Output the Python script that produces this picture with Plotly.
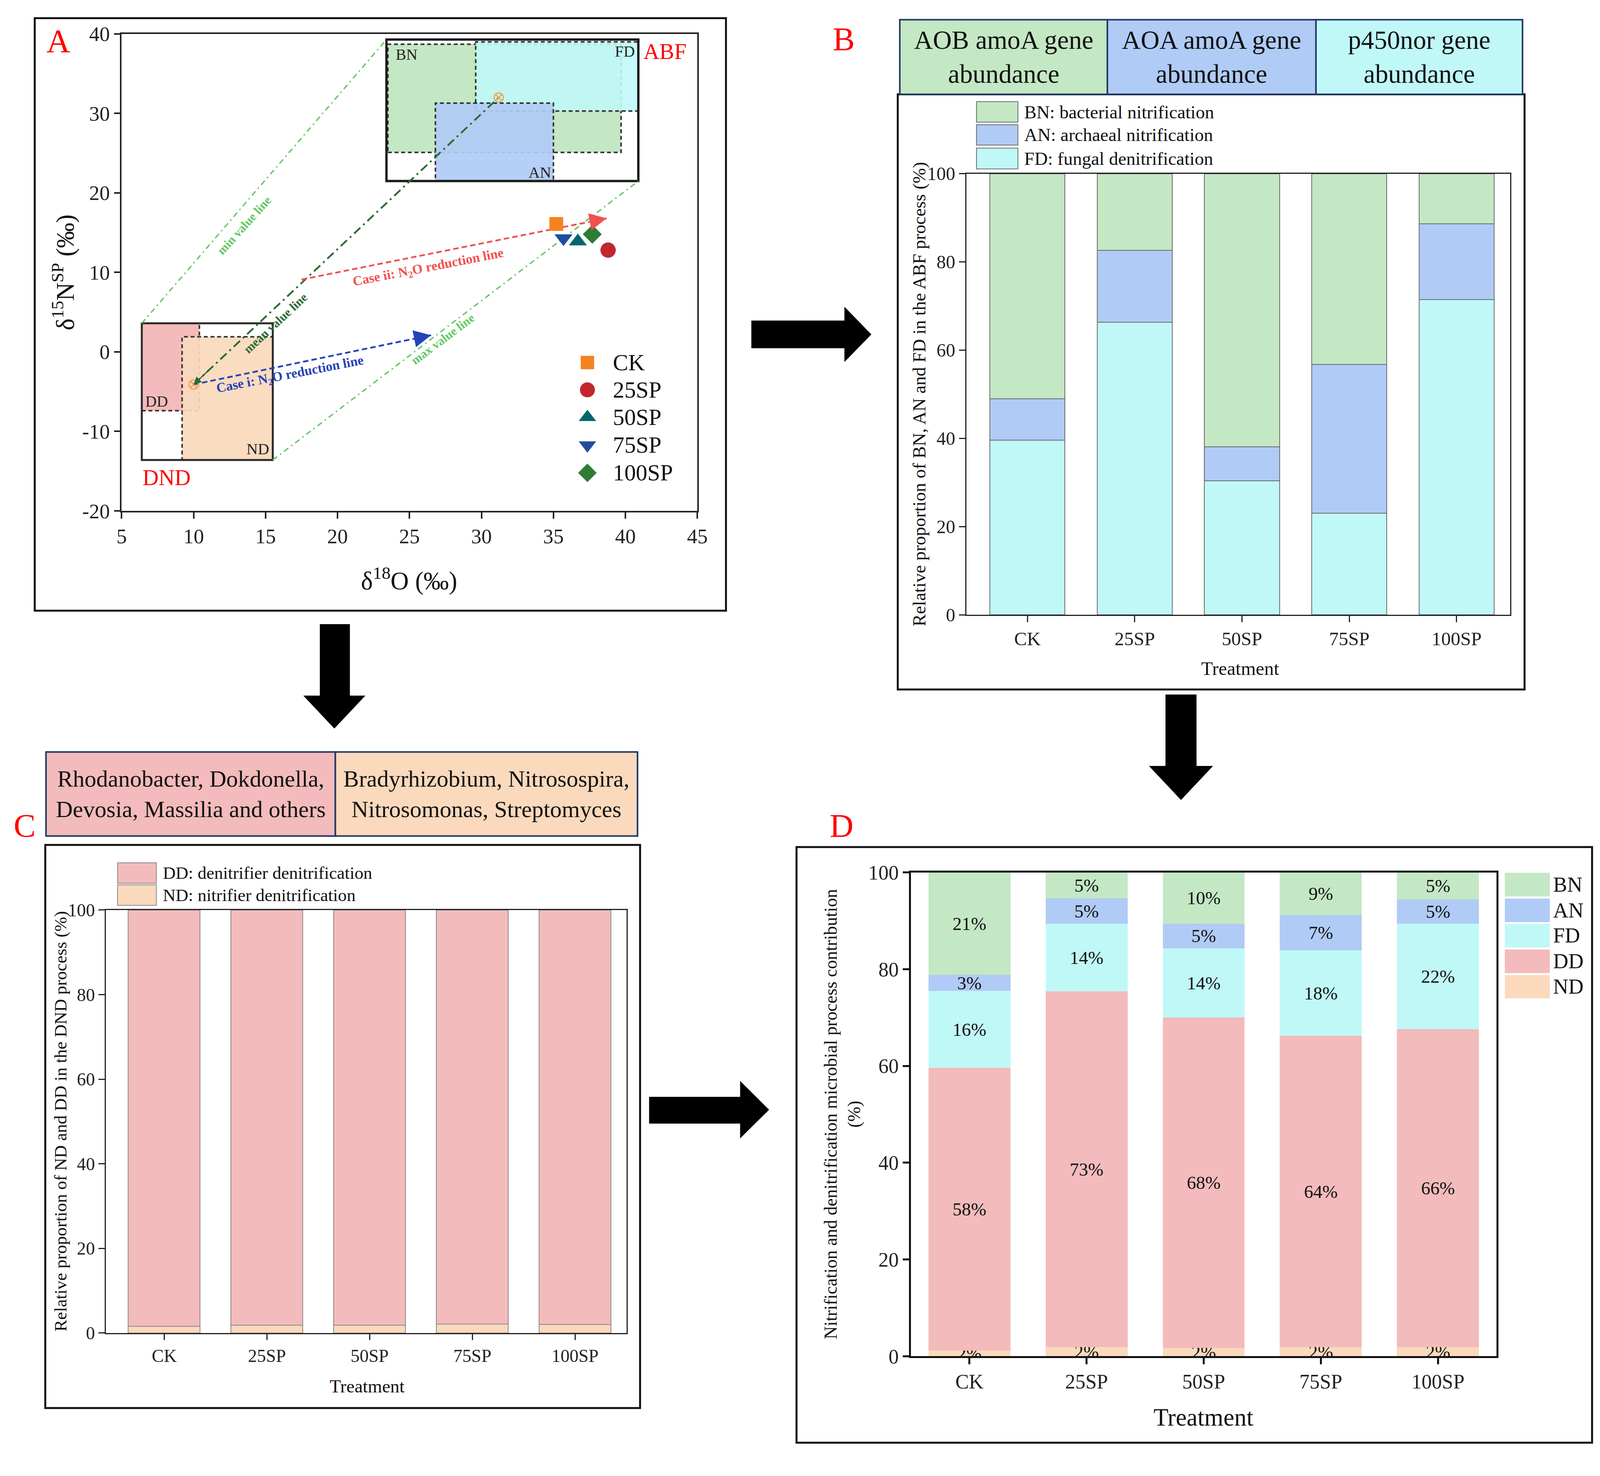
import plotly.graph_objects as go

W, H = 4275, 3779
K = W / 1565.0     # reference-sketch units -> pixels
MX = 1.034         # horizontal compensation for the photographed page width
OFFX, OFFY = 16.0, 33.0


def PX(t):
    return (t * K / MX - OFFX) / W


def PY(t):
    return 1 - (t * K - OFFY) / H


def FS(s):
    return s / 1.02


FONT = "Liberation Serif"

treatments = ["CK", "25SP", "50SP", "75SP", "100SP"]

# ---------------- Panel A data ----------------
a_d18O = [35.2, 38.8, 36.7, 35.7, 37.7]
a_d15Nsp = [16.1, 12.8, 13.9, 14.3, 14.8]
a_symbols = ["square", "circle", "triangle-up", "triangle-down", "diamond"]
a_colors = ["#F58220", "#C1272D", "#00686B", "#1F4E9E", "#2E7D32"]
a_sizes = [36, 40, 41, 41, 38]
a_xticks = [5, 10, 15, 20, 25, 30, 35, 40, 45]
a_yticks = [-20, -10, 0, 10, 20, 30, 40]

# end-member boxes [x0, x1, y0, y1]
dd_box = [6.4, 10.4, -7.4, 3.6]
nd_box = [9.2, 15.5, -13.6, 1.9]
dnd_box = [6.4, 15.5, -13.6, 3.6]
bn_box = [23.5, 39.7, 25.1, 38.7]
fd_box = [29.6, 40.9, 30.3, 39.0]
an_box = [26.8, 35.0, 21.5, 31.3]
abf_box = [23.4, 40.9, 21.5, 39.3]
dnd_mean = [10.0, -4.1]
abf_mean = [31.2, 32.0]
case_i_end = [26.5, 2.1]
case_ii_start = [17.5, 9.1]
case_ii_end = [38.7, 16.8]

# ---------------- Panel B data ----------------
b_FD = [39.6, 66.3, 30.4, 23.0, 71.5]
b_AN = [9.4, 16.3, 7.7, 33.8, 17.1]
b_BN = [51.0, 17.4, 61.9, 43.2, 11.4]

# ---------------- Panel C data ----------------
c_ND = [1.6, 1.8, 1.8, 2.1, 2.0]
c_DD = [98.4, 98.2, 98.2, 97.9, 98.0]

# ---------------- Panel D data ----------------
d_ND = [1.2, 1.9, 1.7, 1.9, 1.9]
d_DD = [58.4, 73.5, 68.3, 64.3, 65.7]
d_FD = [15.9, 14.0, 14.3, 17.7, 21.8]
d_AN = [3.3, 5.2, 5.1, 7.3, 5.0]
d_BN = [21.2, 5.4, 10.6, 8.8, 5.6]
d_ND_lab = ["2%", "2%", "2%", "2%", "2%"]
d_DD_lab = ["58%", "73%", "68%", "64%", "66%"]
d_FD_lab = ["16%", "14%", "14%", "18%", "22%"]
d_AN_lab = ["3%", "5%", "5%", "7%", "5%"]
d_BN_lab = ["21%", "5%", "10%", "9%", "5%"]

C_BN = "#C4E7C4"
C_AN = "#B0CBF5"
C_FD = "#C0F8F8"
C_DD = "#F3BBBB"
C_ND = "#FAD9BC"
NAVY = "#1F3864"

fig = go.Figure()

# ---------- Panel A traces ----------
fig.add_trace(go.Scatter(x=[dnd_box[0], abf_box[0]], y=[dnd_box[3], abf_box[3]], mode="lines",
                         line=dict(color="#62C862", width=3.5, dash="14px,9px,4px,9px"),
                         xaxis="x", yaxis="y", showlegend=False, hoverinfo="skip"))
fig.add_trace(go.Scatter(x=[dnd_box[1], abf_box[1]], y=[dnd_box[2], abf_box[2]], mode="lines",
                         line=dict(color="#62C862", width=3.5, dash="14px,9px,4px,9px"),
                         xaxis="x", yaxis="y", showlegend=False, hoverinfo="skip"))
fig.add_trace(go.Scatter(x=[dnd_mean[0], abf_mean[0]], y=[dnd_mean[1], abf_mean[1]], mode="lines",
                         line=dict(color="#2A6A32", width=4.5, dash="22px,10px,5px,10px"),
                         xaxis="x", yaxis="y", showlegend=False, hoverinfo="skip"))
fig.add_trace(go.Scatter(x=[dnd_mean[0], case_i_end[0]], y=[dnd_mean[1], case_i_end[1]], mode="lines",
                         line=dict(color="#2443B8", width=4.5, dash="14px,8px"),
                         xaxis="x", yaxis="y", showlegend=False, hoverinfo="skip"))
fig.add_trace(go.Scatter(x=[case_ii_start[0], case_ii_end[0]], y=[case_ii_start[1], case_ii_end[1]],
                         mode="lines", line=dict(color="#F25050", width=4.5, dash="14px,8px"),
                         xaxis="x", yaxis="y", showlegend=False, hoverinfo="skip"))
fig.add_trace(go.Scatter(x=[dnd_mean[0], abf_mean[0]], y=[dnd_mean[1], abf_mean[1]], mode="markers",
                         marker=dict(symbol="circle-x-open", size=FS(24), color="#F0A050", line=dict(width=3),
                                     opacity=1),
                         xaxis="x", yaxis="y", showlegend=False, hoverinfo="skip"))
for i, n in enumerate(treatments):
    fig.add_trace(go.Scatter(x=[a_d18O[i]], y=[a_d15Nsp[i]], mode="markers", name=n,
                             marker=dict(symbol=a_symbols[i], color=a_colors[i], size=FS(a_sizes[i]), opacity=1),
                             xaxis="x", yaxis="y", showlegend=False))

# ---------- Panel B bars ----------
for vals, col, nm in [(b_FD, C_FD, "FD"), (b_AN, C_AN, "AN"), (b_BN, C_BN, "BN")]:
    fig.add_trace(go.Bar(x=treatments, y=vals, name=nm, marker=dict(color=col, line=dict(color="#6A6A6A", width=2)),
                         xaxis="x2", yaxis="y2", showlegend=False))

# ---------- Panel C bars ----------
for vals, col, nm in [(c_ND, C_ND, "ND"), (c_DD, C_DD, "DD")]:
    fig.add_trace(go.Bar(x=treatments, y=vals, name=nm, marker=dict(color=col, line=dict(color="#8A8A8A", width=2)),
                         xaxis="x3", yaxis="y3", showlegend=False))

# ---------- Panel D bars ----------
for vals, lab, col, nm in [(d_ND, d_ND_lab, C_ND, "ND"), (d_DD, d_DD_lab, C_DD, "DD"),
                           (d_FD, d_FD_lab, C_FD, "FD"), (d_AN, d_AN_lab, C_AN, "AN"),
                           (d_BN, d_BN_lab, C_BN, "BN")]:
    fig.add_trace(go.Bar(x=treatments, y=vals, name=nm, text=lab, textposition="inside",
                         insidetextanchor="middle", textangle=0,
                         textfont=dict(family=FONT, size=FS(48), color="#111111"),
                         marker=dict(color=col, line=dict(width=0)),
                         xaxis="x4", yaxis="y4", showlegend=False))

# ---------- Panel A legend glyphs (overlay axis in figure fraction) ----------
leg_rows = [343.8, 369.8, 395.9, 422.4, 448.8]
fig.add_trace(go.Scatter(x=[PX(572.5)] * 5, y=[PY(r) for r in leg_rows], mode="markers",
                         marker=dict(symbol=a_symbols, color=a_colors, size=[FS(s) for s in a_sizes], opacity=1),
                         xaxis="x5", yaxis="y5", showlegend=False, hoverinfo="skip"))

shapes = []
ann = []


def rect_data(b, fill, dash, width=4, color="#333333"):
    shapes.append(dict(type="rect", xref="x", yref="y", x0=b[0], x1=b[1], y0=b[2], y1=b[3],
                       fillcolor=fill, line=dict(color=color, width=width, dash=dash), layer="below"))


rect_data(dd_box, C_DD, "10px,7px")
rect_data(nd_box, "rgba(250,217,188,0.92)", "10px,7px")
rect_data(dnd_box, "rgba(0,0,0,0)", "solid", 5, "#2A2A2A")
rect_data(bn_box, C_BN, "10px,7px")
rect_data(fd_box, "rgba(192,248,248,0.9)", "10px,7px")
rect_data(an_box, "rgba(176,203,245,0.92)", "10px,7px")
rect_data(abf_box, "rgba(0,0,0,0)", "solid", 6, "#1A1A1A")


def head(p0, p1, color, w=4, size=2.2):
    f = 0.05
    ann.append(dict(x=p1[0], y=p1[1], ax=p1[0] - (p1[0] - p0[0]) * f, ay=p1[1] - (p1[1] - p0[1]) * f,
                    xref="x", yref="y", axref="x", ayref="y", text="", showarrow=True,
                    arrowhead=2, arrowsize=size, arrowwidth=w, arrowcolor=color))


head(dnd_mean, case_i_end, "#2443B8")
head(case_ii_start, case_ii_end, "#F25050")
head(abf_mean, dnd_mean, "#2A6A32", 3, 1.3)


def dtext(x, y, t, size, color="#222222", angle=0, xanchor="center", bold=False):
    ann.append(dict(x=x, y=y, xref="x", yref="y", text=("<b>%s</b>" % t) if bold else t, showarrow=False,
                    textangle=angle, xanchor=xanchor, yanchor="middle",
                    font=dict(family=FONT, size=FS(size), color=color)))


dtext(24.0, 37.4, "BN", 41, xanchor="left")
dtext(40.7, 37.8, "FD", 41, xanchor="right")
dtext(34.9, 22.6, "AN", 41, xanchor="right")
dtext(6.6, -6.2, "DD", 41, xanchor="left")
dtext(15.3, -12.2, "ND", 41, xanchor="right")
dtext(41.2, 37.8, "ABF", 58, "#FF0000", xanchor="left")
dtext(6.4, -15.8, "DND", 58, "#FF0000", xanchor="left")
dtext(13.5, 15.9, "min value line", 32, "#62C862", -48, bold=True)
dtext(15.7, 3.6, "mean value line", 32, "#2A6A32", -43, bold=True)
dtext(27.3, 1.6, "max value line", 32, "#62C862", -37, bold=True)
dtext(26.3, 10.6, "Case ii: N<sub>2</sub>O reduction line", 35, "#F25050", -11, bold=True)
dtext(16.7, -2.9, "Case i: N<sub>2</sub>O reduction line", 35, "#2443B8", -11, bold=True)


def prect(x0, y0, x1, y1, fill="rgba(0,0,0,0)", lc="#111111", lw=5):
    shapes.append(dict(type="rect", xref="paper", yref="paper", x0=PX(x0), x1=PX(x1), y0=PY(y1), y1=PY(y0),
                       fillcolor=fill, line=dict(color=lc, width=lw), layer="above"))


def ptext(x, y, t, size, color="#111111", xanchor="center", angle=0, yanchor="middle"):
    ann.append(dict(x=PX(x), y=PY(y), xref="paper", yref="paper", text=t, showarrow=False,
                    xanchor=xanchor, yanchor=yanchor, textangle=angle,
                    font=dict(family=FONT, size=FS(size), color=color)))


def ppath(pts):
    d = "M " + " L ".join("%.5f,%.5f" % (PX(a), PY(b)) for a, b in pts) + " Z"
    shapes.append(dict(type="path", xref="paper", yref="paper", path=d, fillcolor="#000000",
                       line=dict(color="#000000", width=1), layer="above"))


prect(32, 16, 708, 580)
prect(876, 88.5, 1489, 655)
prect(42.3, 803, 624, 1339)
prect(777, 805, 1555, 1372)

prect(878, 17.5, 1081, 88.5, C_BN, NAVY, 4)
prect(1081, 17.5, 1285, 88.5, C_AN, NAVY, 4)
prect(1285, 17.5, 1487, 88.5, C_FD, NAVY, 4)
ptext(979.5, 53, "AOB amoA gene<br>abundance", 68)
ptext(1183, 53, "AOA amoA gene<br>abundance", 68)
ptext(1386, 53, "p450nor gene<br>abundance", 68)

prect(43, 714.5, 326, 794.5, C_DD, NAVY, 4)
prect(326, 714.5, 621.5, 794.5, C_ND, NAVY, 4)
ptext(184.5, 754.5, "Rhodanobacter, Dokdonella,<br>Devosia, Massilia and others", 61)
ptext(473.5, 754.5, "Bradyrhizobium, Nitrosospira,<br>Nitrosomonas, Streptomyces", 61)

ptext(55, 38, "A", 86, "#FF0000")
ptext(823, 36, "B", 86, "#FF0000")
ptext(22, 785, "C", 86, "#FF0000")
ptext(821, 785, "D", 86, "#FF0000")

for r, n in zip(leg_rows, treatments):
    ptext(596.5, r, n, 60, xanchor="left")

ptext(60, 258, "δ<sup>15</sup>N<sup>SP</sup> (‰)", 66, angle=-90)
ptext(398, 550, "δ<sup>18</sup>O (‰)", 66)

for (y0, y1), col, t in zip([(95.5, 115), (117.4, 136.8), (139.7, 159.5)], [C_BN, C_AN, C_FD],
                            ["BN: bacterial nitrification", "AN: archaeal nitrification",
                             "FD: fungal denitrification"]):
    prect(953, y0, 993.5, y1, col, "#6A6A6A", 2)
    ptext(999, (y0 + y1) / 2, t, 48, xanchor="left")
ptext(897, 374, "Relative proportion of BN, AN and FD in the ABF process (%)", 48, angle=-90)
ptext(1211, 635, "Treatment", 50)

for (y0, y1), col, t in zip([(820, 839.5), (841, 860.5)], [C_DD, C_ND],
                            ["DD: denitrifier denitrification", "ND: nitrifier denitrification"]):
    prect(113, y0, 151, y1, col, "#8A8A8A", 2)
    ptext(156.7, (y0 + y1) / 2, t, 46, xanchor="left")
ptext(57, 1066, "Relative proportion of ND and DD in the DND process (%)", 46, angle=-90)
ptext(357, 1318, "Treatment", 48)

for (y0, y1), col, t in zip([(829.5, 852), (854, 876.5), (878, 900.6), (902.5, 925), (927, 949)],
                            [C_BN, C_AN, C_FD, C_DD, C_ND], ["BN", "AN", "FD", "DD", "ND"]):
    prect(1469.7, y0, 1513.7, y1, col, "rgba(0,0,0,0)", 0)
    ptext(1516, (y0 + y1) / 2, t, 55, xanchor="left")
ptext(822, 1059, "Nitrification and denitrification microbial process contribution<br>(%)", 47, angle=-90)
ptext(1175, 1348, "Treatment", 64)

ppath([(733, 304), (824, 304), (824, 291), (850, 317), (824, 343), (824, 330), (733, 330)])
ppath([(311, 593), (340, 593), (340, 661), (355, 661), (325, 692), (295, 661), (311, 661)])
ppath([(1138, 660), (1168, 660), (1168, 728), (1184, 728), (1153, 760), (1122, 728), (1138, 728)])
ppath([(633, 1043), (722, 1043), (722, 1028), (750, 1055), (722, 1082), (722, 1068), (633, 1068)])


def axis(domain, anchor, size, lw=3, lc="#222222", **kw):
    d = dict(domain=domain, anchor=anchor, showline=True, mirror=True, linecolor=lc, linewidth=lw,
             ticks="outside", ticklen=FS(16), tickwidth=lw, tickcolor=lc, showgrid=False, zeroline=False,
             tickfont=dict(family=FONT, size=FS(size), color="#222222"))
    d.update(kw)
    return d


layout = dict(
    width=W, height=H, margin=dict(l=0, r=0, t=0, b=0), paper_bgcolor="white",
    plot_bgcolor="rgba(0,0,0,0)",
    barmode="stack", bargap=0.3, showlegend=False,
    uniformtext=dict(minsize=FS(48), mode="show"),
    xaxis=axis([PX(117), PX(680)], "y", 54, 4, range=[5, 45], tickmode="array", tickvals=a_xticks,
               ticktext=[str(v) for v in a_xticks]),
    yaxis=axis([PY(485), PY(31)], "x", 54, 4, range=[-20, 40], tickmode="array", tickvals=a_yticks,
               ticktext=[str(v) for v in a_yticks]),
    xaxis2=axis([PX(943), PX(1475)], "y2", 50, 2.5, type="category", range=[-0.57, 4.5]),
    yaxis2=axis([PY(584), PY(164)], "x2", 49, 2.5, range=[0, 100], dtick=20),
    xaxis3=axis([PX(101.4), PX(610.6)], "y3", 47, 2.5, type="category", range=[-0.57, 4.5]),
    yaxis3=axis([PY(1267.6), PY(864.9)], "x3", 47, 2.5, range=[0, 100], dtick=20),
    xaxis4=axis([PX(888.8), PX(1461.6)], "y4", 53, 5, lc="#111111", type="category", range=[-0.5, 4.5]),
    yaxis4=axis([PY(1289.7), PY(829.1)], "x4", 53, 5, lc="#111111", range=[0, 100], dtick=20),
    xaxis5=dict(domain=[0, 1], anchor="y5", range=[0, 1], visible=False, fixedrange=True),
    yaxis5=dict(domain=[0, 1], anchor="x5", range=[0, 1], visible=False, fixedrange=True),
    shapes=shapes, annotations=ann,
    font=dict(family=FONT),
)
fig.update_layout(**layout)
fig.write_html("out.html")
